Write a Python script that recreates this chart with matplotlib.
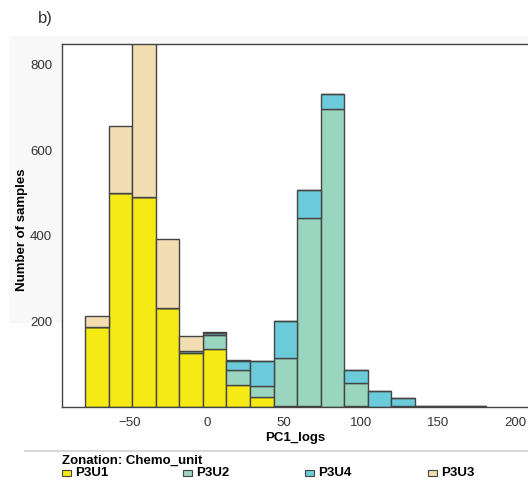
import numpy as np
import matplotlib
matplotlib.use("Agg")
import matplotlib.pyplot as plt
from matplotlib.patches import Rectangle
from matplotlib.lines import Line2D

plt.rcParams['font.family'] = ['Liberation Sans', 'DejaVu Sans']

# Histogram of PC1_logs, stacked by chemo unit
bin_start = -79.2
bin_width = 15.3
units = ['P3U1', 'P3U2', 'P3U4', 'P3U3']
p3u1 = [188, 501, 492, 232, 127, 136, 51, 23, 3, 2, 0, 2, 0, 2, 0, 0, 0]
p3u2 = [0, 0, 0, 0, 3, 33, 35, 25, 112, 441, 698, 53, 0, 0, 0, 0, 0]
p3u4 = [0, 0, 0, 0, 2, 4, 22, 59, 85, 64, 34, 32, 37, 18, 2, 2, 3]
p3u3 = [25, 156, 380, 162, 33, 3, 3, 0, 0, 0, 0, 0, 0, 0, 0, 0, 0]
unit_colors = ['#F5EA14', '#9AD6BF', '#6BCBDB', '#F3DDB3']
x_ticks = [-50, 0, 50, 100, 150, 200]
y_ticks = [200, 400, 600, 800]

W, H = 528, 482
fig = plt.figure(figsize=(W / 100, H / 100), dpi=100)

# faint grey panel behind the chart
fig.patches.append(Rectangle((9 / W, 1 - 322 / H), 1, (322 - 36) / H,
                             transform=fig.transFigure, color='#f8f8f8', zorder=-5))

ax = fig.add_axes([62 / W, 1 - 407 / H, 1 - 62 / W, (407 - 44) / H])
ax.set_facecolor('white')

lefts = bin_start + bin_width * np.arange(len(p3u1))
bottom = np.zeros(len(p3u1))
for vals, col in zip([p3u1, p3u2, p3u4, p3u3], unit_colors):
    vals = np.array(vals, dtype=float)
    ax.bar(lefts, vals, width=bin_width, bottom=bottom, align='edge',
           color=col, edgecolor='#444444', linewidth=1.0)
    bottom += vals

ax.set_xlim(-94.2, 208.4)
ax.set_ylim(0, 849)
ax.set_xticks(x_ticks)
ax.set_yticks(y_ticks)
ax.tick_params(length=0, labelsize=9.5, labelcolor='#333333', pad=7)
for s in ['left', 'top', 'bottom']:
    ax.spines[s].set_color('#444444')
    ax.spines[s].set_linewidth(1.0)
ax.spines['right'].set_visible(False)

ax.set_xlabel('PC1_logs', fontweight='bold', fontsize=9.5, labelpad=2)
fig.text(22 / W, 1 - 230 / H, 'Number of samples', rotation=90, fontweight='bold',
         fontsize=9.5, ha='center', va='center')
fig.text(38 / W, 1 - 18 / H, 'b)', fontsize=12, color='#333333', va='center')

# legend area
fig.add_artist(Line2D([25 / W, 1], [1 - 451 / H] * 2, transform=fig.transFigure,
                      color='#d0d0d0', linewidth=1.2))
fig.text(62 / W, 1 - 461 / H, 'Zonation: Chemo_unit', fontweight='bold',
         fontsize=9.5, va='center')
leg_x = [62, 183, 305, 428]
for name, col, x in zip(units, unit_colors, leg_x):
    fig.patches.append(Rectangle((x / W, 1 - 476 / H), 9 / W, 6 / H,
                                 transform=fig.transFigure, facecolor=col,
                                 edgecolor='#444444', linewidth=0.8))
    fig.text((x + 13) / W, 1 - 473 / H, name, fontweight='bold', fontsize=9.5,
             va='center')

fig.savefig('out.png', dpi=100)
